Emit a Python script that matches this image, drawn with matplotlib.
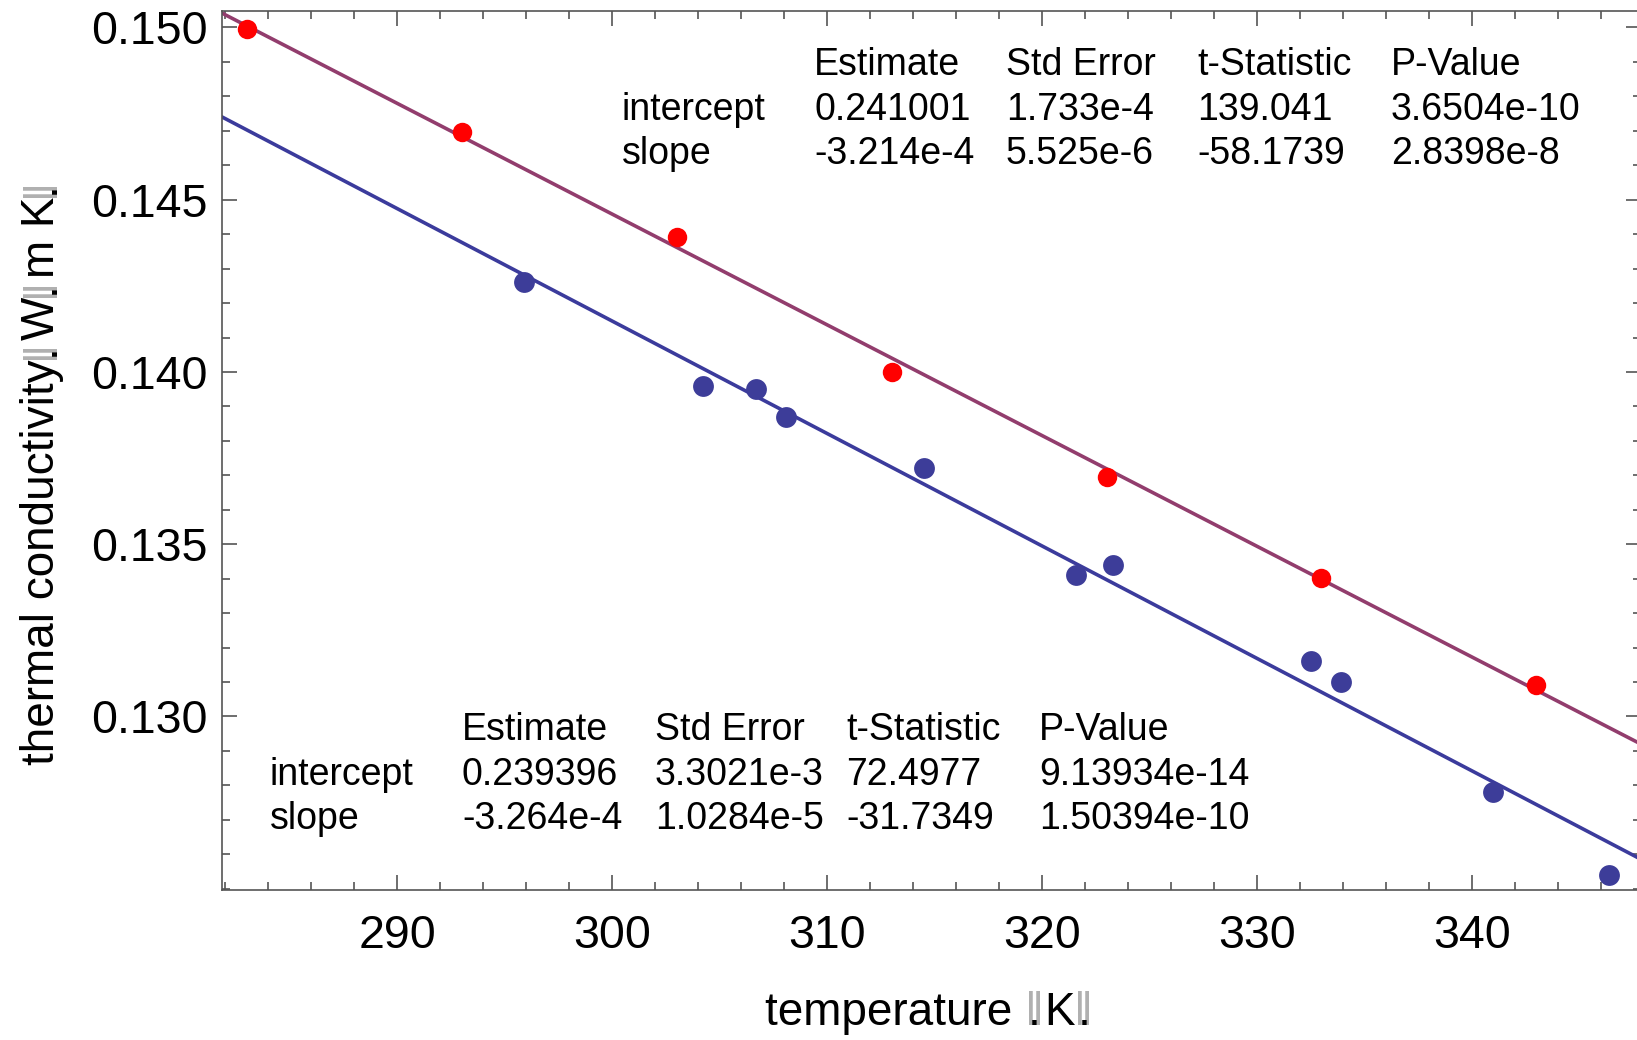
import matplotlib
matplotlib.use("Agg")
import matplotlib.pyplot as plt
from matplotlib.ticker import MultipleLocator, FormatStrFormatter
import numpy as np

plt.rcParams['font.family'] = ['Liberation Sans', 'DejaVu Sans']

# data
temp_red = [283, 293, 303, 313, 323, 333, 343]
k_red = [0.14995, 0.14698, 0.14392, 0.14001, 0.13695, 0.13401, 0.13092]
temp_blue = [295.9, 304.2, 306.7, 308.1, 314.5, 321.6, 323.3, 332.5, 333.9, 341.0, 346.4]
k_blue = [0.1426, 0.1396, 0.1395, 0.1387, 0.1372, 0.1341, 0.1344, 0.1316, 0.1310, 0.1278, 0.1254]
y_ticks = [0.130, 0.135, 0.140, 0.145, 0.150]

# fit tables
col_head = ["Estimate", "Std Error", "t-Statistic", "P-Value"]
row_head = ["intercept", "slope"]
fit_red = [["0.241001", "1.733e-4", "139.041", "3.6504e-10"],
           ["-3.214e-4", "5.525e-6", "-58.1739", "2.8398e-8"]]
fit_blue = [["0.239396", "3.3021e-3", "72.4977", "9.13934e-14"],
            ["-3.264e-4", "1.0284e-5", "-31.7349", "1.50394e-10"]]
red_par = (0.241001, -3.214e-4)
blue_par = (0.239396, -3.264e-4)

W, H = 1637, 1040
fig = plt.figure(figsize=(W / 100, H / 100), dpi=100)
ax = fig.add_axes([222 / W, 150 / H, (1641 - 222) / W, (890 - 11) / H])

xmin, xmax = 281.84, 347.87
ax.set_xlim(xmin, xmax)
ax.set_ylim(0.12496, 0.150479)

xs = np.array([xmin, xmax])
ax.plot(xs, red_par[0] + red_par[1] * xs, color='#923d6d', lw=2.6, zorder=2)
ax.plot(xs, blue_par[0] + blue_par[1] * xs, color='#3b3b9c', lw=2.6, zorder=2)
ax.plot(temp_red, k_red, 'o', color='#ff0000', ms=14, mew=0, zorder=3)
ax.plot(temp_blue, k_blue, 'o', color='#3d3d99', ms=15, mew=0, zorder=3)

ax.xaxis.set_major_locator(MultipleLocator(10))
ax.xaxis.set_minor_locator(MultipleLocator(2))
ax.set_yticks(y_ticks)
ax.yaxis.set_minor_locator(MultipleLocator(0.001))
ax.yaxis.set_major_formatter(FormatStrFormatter('%.3f'))
ax.tick_params(which='both', direction='in', top=True, right=True, color='#555555', width=1.2)
ax.tick_params(which='major', length=10.5, labelsize=33.5)
ax.tick_params(which='minor', length=6)
ax.tick_params(axis='x', which='major', pad=17)
ax.tick_params(axis='y', which='major', pad=10)
for s in ax.spines.values():
    s.set_color('#555555')
    s.set_linewidth(1.2)


def chain(x, y, pieces, rot):
    # text pieces one after another, tofu boxes drawn light grey with a dot
    if rot:
        t = fig.text(x, y, pieces[0], rotation=90, ha='center', va='bottom', fontsize=33)
    else:
        t = fig.text(x, y, pieces[0], ha='left', va='bottom', fontsize=33)
    for p in pieces[1:]:
        grey = p == '\u2016'
        c = '#b0b0b0' if grey else 'black'
        if rot:
            t2 = ax.annotate(p, xy=(0, 1), xycoords=t, ha='left', va='bottom',
                             rotation=90, fontsize=33, color=c, annotation_clip=False)
            if grey:
                ax.annotate('.', xy=(1, 0.5), xycoords=t2, ha='right', va='center',
                            rotation=90, fontsize=33, annotation_clip=False)
        else:
            t2 = ax.annotate(p, xy=(1, 0), xycoords=t, ha='left', va='bottom',
                             fontsize=33, color=c, annotation_clip=False)
            if grey:
                ax.annotate('.', xy=(0.5, 0), xycoords=t2, ha='center', va='bottom',
                            fontsize=33, annotation_clip=False)
        t = t2


chain(765 / W, 1 - 1035 / H, ["temperature ", "\u2016", "K", "\u2016"], False)
chain(42 / W, 1 - 765 / H, ["thermal conductivity", "\u2016", "W", "\u2016", "m K", "\u2016"], True)


def table(x0, cols, rows, vals):
    for j, h in enumerate(col_head):
        fig.text(cols[j] / W, 1 - rows[0] / H, h, fontsize=27, va='center')
    for i, r in enumerate(row_head):
        fig.text(x0 / W, 1 - rows[i + 1] / H, r, fontsize=27, va='center')
        for j, v in enumerate(vals[i]):
            fig.text(cols[j] / W, 1 - rows[i + 1] / H, v, fontsize=27, va='center')


table(622, [814, 1006, 1197, 1391], [65, 110, 154], fit_red)
table(270, [462, 655, 846, 1039], [730, 775, 819], fit_blue)

fig.savefig("out.png", dpi=100)
